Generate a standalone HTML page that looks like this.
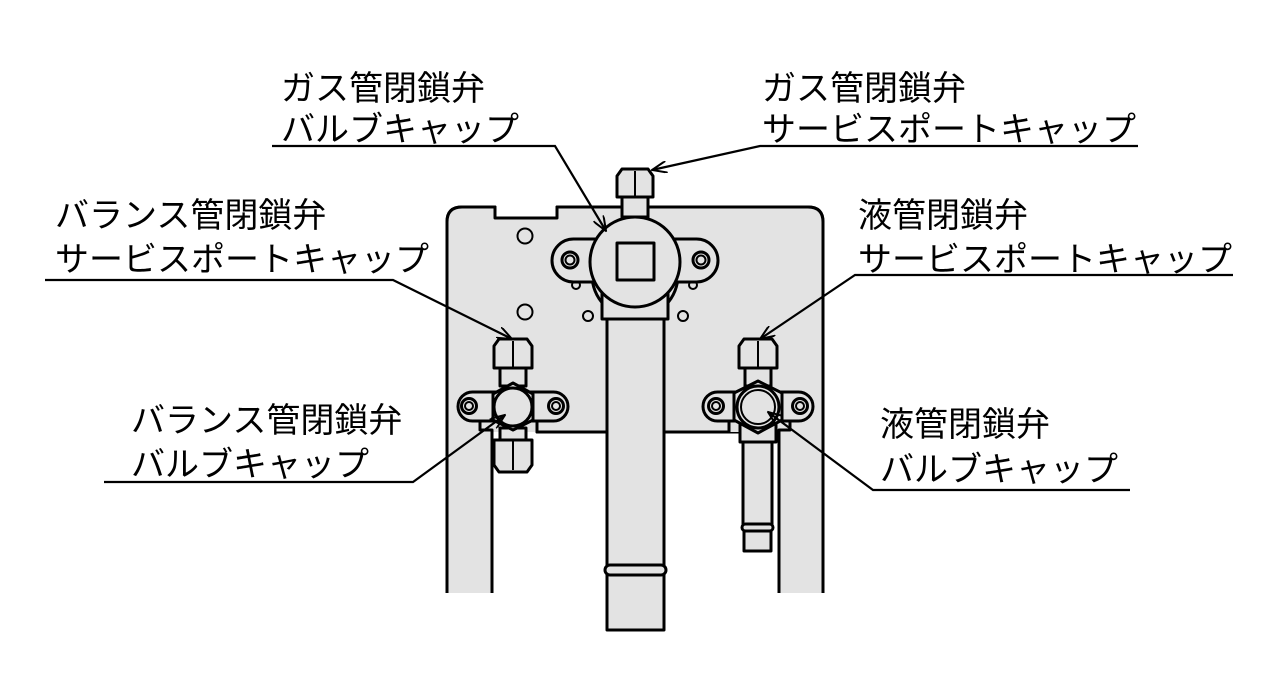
<!DOCTYPE html>
<html><head><meta charset="utf-8"><style>
html,body{margin:0;padding:0;background:#fff;}
svg{display:block;}
text{font-family:"Liberation Sans","Noto Sans CJK JP",sans-serif;font-size:34px;fill:#000;}
</style></head><body>
<svg width="1280" height="675" viewBox="0 0 1280 675" xmlns="http://www.w3.org/2000/svg">
<defs>
<marker id="ar" markerWidth="16" markerHeight="12" refX="15" refY="6" orient="auto" markerUnits="userSpaceOnUse">
<path d="M0,0 L15,6 L0,12" fill="none" stroke="#000" stroke-width="2"/>
</marker>
</defs>
<g stroke="#000" stroke-width="3" fill="#e3e3e3" stroke-linejoin="round">
<!-- plate -->
<path d="M447,593 L447,222 Q447,207 462,207 L495,207 L495,218 L557,218 L557,207 L808,207 Q823,207 823,222 L823,593 M779,593 L779,432 L787,432 L787,425 L773,425 L773,432 L729,432 L729,432 M664,432 L537,432 L537,425 L492,425 L492,593" fill="none"/>
<path d="M447,593 L447,222 Q447,207 462,207 L495,207 L495,218 L557,218 L557,207 L808,207 Q823,207 823,222 L823,593 L779,593 L779,432 L729,432 L537,432 L492,432 L492,593 Z" stroke="none"/>
<!-- redraw plate outline -->
<path d="M447,593 L447,222 Q447,207 462,207 L495,207 L495,218 L557,218 L557,207 L808,207 Q823,207 823,222 L823,593" fill="none"/>
<path d="M492,593 L492,430 L480,430 L480,420" fill="none"/>
<path d="M537,420 L537,432 L607,432" fill="none"/>
<path d="M664,432 L729,432 L729,422" fill="none"/>
<path d="M779,593 L779,430 L790,430 L790,420" fill="none"/>
<!-- holes -->
<circle cx="525" cy="236" r="7.5" stroke-width="2"/>
<circle cx="525" cy="312" r="7.5" stroke-width="2"/>
<circle cx="588" cy="316" r="5" stroke-width="2"/>
<circle cx="683" cy="316" r="5" stroke-width="2"/>
<!-- gas pipe -->
<rect x="607" y="300" width="57" height="330"/>
<rect x="605" y="565" width="61" height="10" rx="5"/>
<!-- gas valve -->
<circle cx="635" cy="275" r="43"/>
<rect x="602" y="280" width="66" height="39"/>
<rect x="622" y="195" width="26" height="22"/>
<path d="M617,197 L617,176 L622,169 L648,169 L653,176 L653,197 Z"/>
<line x1="635" y1="171" x2="635" y2="197" stroke-width="2"/>
<circle cx="576" cy="285" r="4" stroke-width="2"/>
<circle cx="693" cy="285" r="4" stroke-width="2"/>
<rect x="552" y="239" width="166" height="43" rx="21.5"/>
<circle cx="570" cy="260" r="8"/>
<circle cx="570" cy="260" r="4.5" stroke-width="2"/>
<circle cx="701" cy="260" r="8"/>
<circle cx="701" cy="260" r="4.5" stroke-width="2"/>
<circle cx="635" cy="262" r="45"/>
<rect x="617" y="243" width="37" height="37"/>
<!-- left valve -->
<rect x="500" y="366" width="26" height="20"/>
<rect x="500" y="428" width="26" height="14"/>
<path d="M494,368 L494,346 L499,339 L527,339 L532,346 L532,368 Z"/>
<line x1="513" y1="341" x2="513" y2="368" stroke-width="2"/>
<path d="M494,440 L494,465 L499,472 L527,472 L532,465 L532,440 Z"/>
<line x1="513" y1="440" x2="513" y2="470" stroke-width="2"/>
<rect x="458" y="392" width="110" height="29" rx="14.5"/>
<circle cx="469" cy="406" r="7.5"/>
<circle cx="469" cy="406" r="4" stroke-width="2"/>
<circle cx="556" cy="406" r="7.5"/>
<circle cx="556" cy="406" r="4" stroke-width="2"/>
<path d="M513,383 L533,394 L533,420 L513,430 L493,420 L493,394 Z"/>
<circle cx="513" cy="407" r="19"/>
<!-- right valve -->
<rect x="745" y="366" width="26" height="20"/>
<rect x="743" y="440" width="29" height="88"/>
<rect x="742" y="524" width="31" height="7" rx="3.5"/>
<rect x="744" y="531" width="27" height="20"/>
<rect x="740" y="420" width="36" height="22"/>
<path d="M739,368 L739,346 L744,339 L772,339 L777,346 L777,368 Z"/>
<line x1="758" y1="341" x2="758" y2="368" stroke-width="2"/>
<rect x="703" y="392" width="110" height="29" rx="14.5"/>
<circle cx="716" cy="406" r="7.5"/>
<circle cx="716" cy="406" r="4" stroke-width="2"/>
<circle cx="800" cy="406" r="7.5"/>
<circle cx="800" cy="406" r="4" stroke-width="2"/>
<path d="M758,381 L782,393 L782,420 L758,433 L734,420 L734,393 Z"/>
<circle cx="758" cy="407" r="21"/>
<circle cx="758" cy="407" r="17" stroke-width="2"/>
</g>
<!-- leader lines -->
<g stroke="#000" stroke-width="2.2" fill="none">
<polyline points="272,146 555,146 606,231" marker-end="url(#ar)"/>
<polyline points="1138,146 760,146 652,170" marker-end="url(#ar)"/>
<polyline points="45,280 393,280 512,339" marker-end="url(#ar)"/>
<polyline points="1233,275 855,275 760,339" marker-end="url(#ar)"/>
<polyline points="104,482 413,482 505,415" marker-end="url(#ar)"/>
<polyline points="1130,490 873,490 768,412" marker-end="url(#ar)"/>
</g>
<text x="281" y="100">ガス管閉鎖弁</text>
<text x="281" y="141">バルブキャップ</text>
<text x="762" y="100">ガス管閉鎖弁</text>
<text x="762" y="141">サービスポートキャップ</text>
<text x="55" y="227">バランス管閉鎖弁</text>
<text x="55" y="271">サービスポートキャップ</text>
<text x="858" y="227">液管閉鎖弁</text>
<text x="858" y="271">サービスポートキャップ</text>
<text x="131" y="432">バランス管閉鎖弁</text>
<text x="131" y="476">バルブキャップ</text>
<text x="880" y="436">液管閉鎖弁</text>
<text x="880" y="481">バルブキャップ</text>
</svg>
</body></html>
